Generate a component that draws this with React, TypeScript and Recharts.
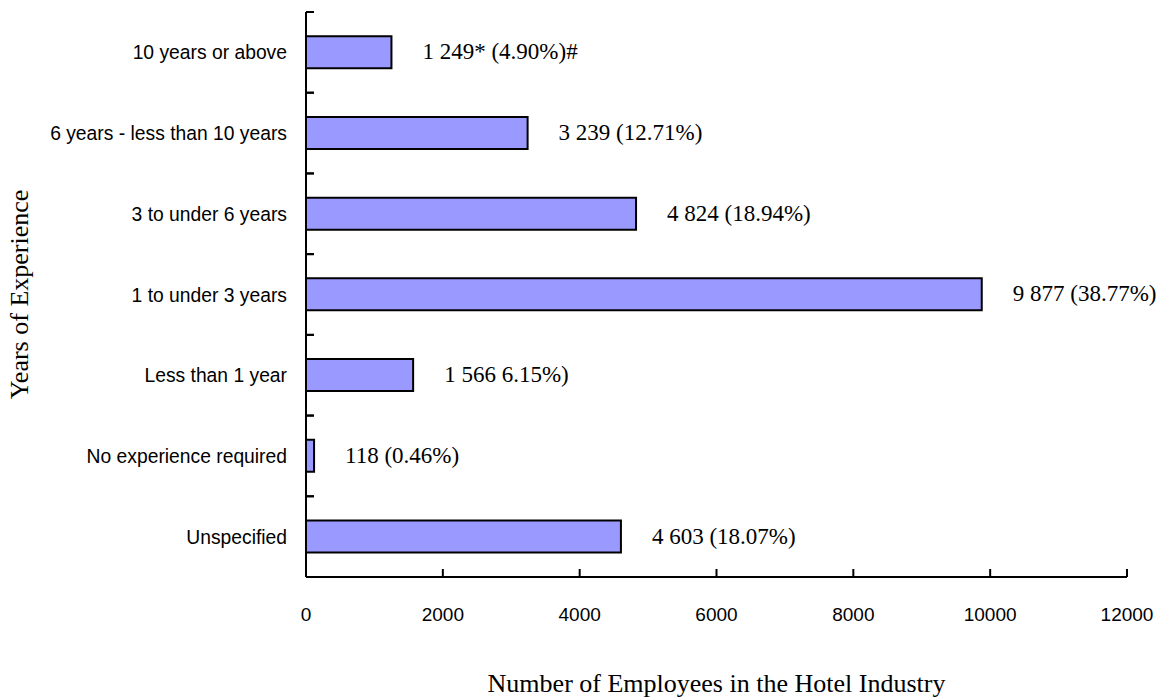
import React from 'react';
import { BarChart, Bar, XAxis, YAxis, LabelList } from 'recharts';

const categories = [
  '10 years or above',
  '6 years - less than 10 years',
  '3 to under 6 years',
  '1 to under 3 years',
  'Less than 1 year',
  'No experience required',
  'Unspecified',
];
const employees = [1249, 3239, 4824, 9877, 1566, 118, 4603];
const valueLabels = [
  '1 249* (4.90%)#',
  '3 239 (12.71%)',
  '4 824 (18.94%)',
  '9 877 (38.77%)',
  '1 566 6.15%)',
  '118 (0.46%)',
  '4 603 (18.07%)',
];
const xTicks = [0, 2000, 4000, 6000, 8000, 10000, 12000];
const xTitle = 'Number of Employees in the Hotel Industry';
const yTitle = 'Years of Experience';

const data = categories.map((name, i) => ({ name, value: employees[i], label: valueLabels[i] }));

const W = 1160;
const H = 698;
const M = { top: 12, right: 33, bottom: 0, left: 0 };
const Y_AXIS_W = 306;
const X_AXIS_H = 121;
const PLOT_H = H - M.top - X_AXIS_H;
const BAND = PLOT_H / categories.length;

const XTick = (props: any) => {
  const { x, y, payload } = props;
  return (
    <g>
      <line x1={x} y1={y} x2={x} y2={y - 8} stroke="#000" strokeWidth={2} />
      <text x={x} y={y + 44} textAnchor="middle" fontFamily="'Liberation Sans', Arial, sans-serif" fontSize={19} fill="#000">
        {payload.value}
      </text>
    </g>
  );
};

const YTick = (props: any) => {
  const { x, y, payload } = props;
  return (
    <g>
      <line x1={x} y1={y - BAND / 2} x2={x + 8} y2={y - BAND / 2} stroke="#000" strokeWidth={2} />
      <line x1={x} y1={y + BAND / 2} x2={x + 8} y2={y + BAND / 2} stroke="#000" strokeWidth={2} />
      <text x={x - 19} y={y + 7} textAnchor="end" fontFamily="'Liberation Sans', Arial, sans-serif" fontSize={19.3} fill="#000">
        {payload.value}
      </text>
    </g>
  );
};

const ValueLabel = (props: any) => {
  const { x, y, width, height, value } = props;
  return (
    <text x={x + width + 31} y={y + height / 2 + 7} fontFamily="'Liberation Serif', 'Times New Roman', serif" fontSize={23} fill="#000">
      {value}
    </text>
  );
};

export default function App() {
  return (
    <div style={{ position: 'absolute', left: 0, top: 0, width: W, height: H, background: '#fff' }}>
      <BarChart width={W} height={H} data={data} layout="vertical" margin={M} barCategoryGap="30%">
        <XAxis
          type="number"
          domain={[0, 12000]}
          ticks={xTicks}
          height={X_AXIS_H}
          axisLine={{ stroke: '#000', strokeWidth: 2 }}
          tickLine={false}
          tickSize={0}
          tickMargin={0}
          tick={<XTick />}
          interval={0}
          label={{
            value: xTitle,
            content: (p: any) => {
              const vb = p.viewBox;
              return (
                <text x={vb.x + vb.width / 2} y={H - 6} textAnchor="middle" fontFamily="'Liberation Serif', 'Times New Roman', serif" fontSize={26} fill="#000">
                  {xTitle}
                </text>
              );
            },
          }}
        />
        <YAxis
          type="category"
          dataKey="name"
          width={Y_AXIS_W}
          axisLine={{ stroke: '#000', strokeWidth: 2 }}
          tickLine={false}
          tickSize={0}
          tickMargin={0}
          tick={<YTick />}
          interval={0}
          label={{
            value: yTitle,
            content: (p: any) => {
              const vb = p.viewBox;
              const cx = 28;
              const cy = vb.y + vb.height / 2;
              return (
                <text x={cx} y={cy} transform={`rotate(-90 ${cx} ${cy})`} textAnchor="middle" fontFamily="'Liberation Serif', 'Times New Roman', serif" fontSize={26} fill="#000">
                  {yTitle}
                </text>
              );
            },
          }}
        />
        <Bar dataKey="value" fill="#9999FF" stroke="#000" strokeWidth={2} isAnimationActive={false}>
          <LabelList dataKey="label" content={<ValueLabel />} />
        </Bar>
      </BarChart>
    </div>
  );
}
